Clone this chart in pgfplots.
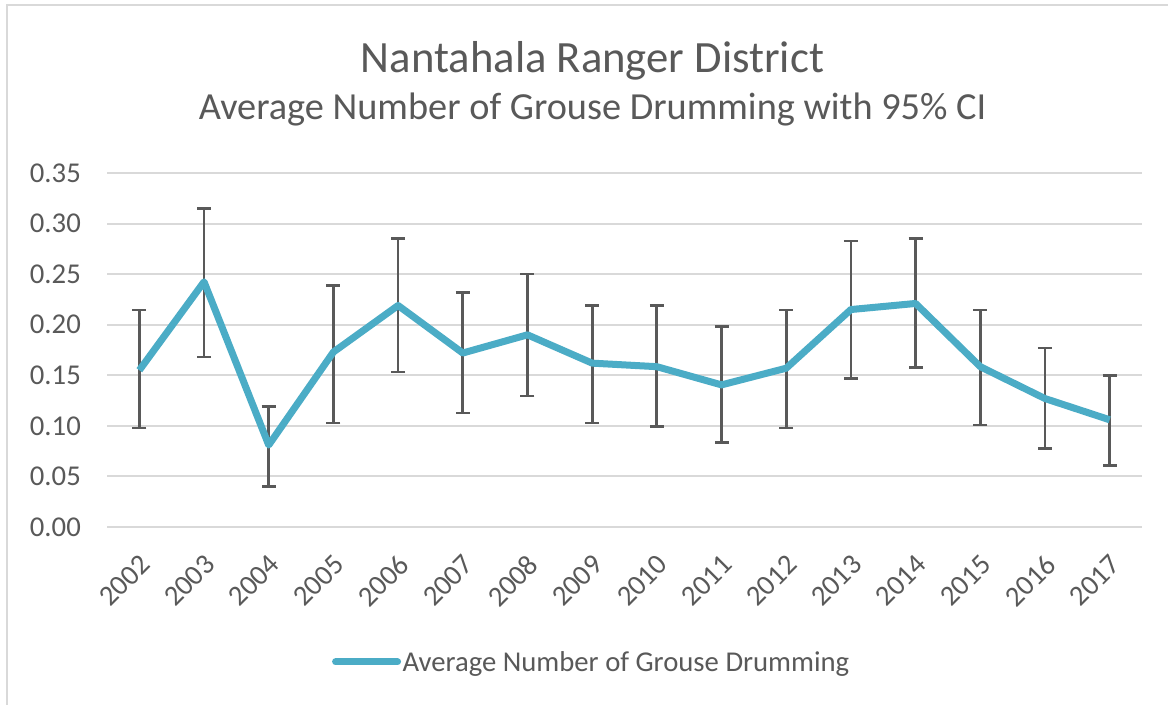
\documentclass[border=0pt]{standalone}
\usepackage{fontspec}
\setmainfont{Carlito}
\usepackage{pgfplots}
\pgfplotsset{compat=1.18}
\usepackage{pgfplotstable}
\definecolor{txt}{HTML}{595959}
\definecolor{gridc}{HTML}{D9D9D9}
\definecolor{aqua}{HTML}{4BACC6}
\definecolor{errc}{HTML}{595959}

\pgfplotstableread{
x val hi lo
0 0.155 0.2145 0.0977
1 0.2424 0.315 0.168
2 0.081 0.119 0.040
3 0.173 0.239 0.103
4 0.219 0.285 0.153
5 0.172 0.2316 0.1125
6 0.190 0.250 0.1296
7 0.162 0.219 0.103
8 0.1585 0.219 0.0993
9 0.1405 0.198 0.0835
10 0.157 0.2145 0.0977
11 0.215 0.283 0.1467
12 0.221 0.285 0.1576
13 0.1585 0.2145 0.1007
14 0.127 0.177 0.0776
15 0.106 0.1497 0.0608
}\data

\begin{document}
\begin{tikzpicture}[x=1bp,y=1bp]
\useasboundingbox (0,0) rectangle (1168,705);
\fill[white] (0,0) rectangle (1168,705);
\draw[gridc, line width=2bp] (7,0) -- (7,700) -- (1168,700);
\node[anchor=base, text=txt, font=\fontsize{44.7bp}{50bp}\selectfont] at (592.5,632) {Nantahala Ranger District};
\node[anchor=base, text=txt, font=\fontsize{38.3bp}{42bp}\selectfont] at (592.5,585) {Average Number of Grouse Drumming with 95\% CI};
\begin{axis}[
  at={(107bp,178bp)}, anchor=south west, scale only axis,
  width=1035bp, height=354bp,
  xmin=-0.5, xmax=15.5, ymin=0, ymax=0.35,
  xtick={0,...,15},
  xticklabels={2002,2003,2004,2005,2006,2007,2008,2009,2010,2011,2012,2013,2014,2015,2016,2017},
  ytick={0,0.05,0.10,0.15,0.20,0.25,0.30,0.35},
  axis line style={draw=none},
  major tick length=0pt,
  ymajorgrids, grid style={gridc, line width=2bp},
  ticklabel style={font=\fontsize{28.7bp}{30bp}\selectfont, text=txt},
  yticklabel style={anchor=east, inner sep=0pt, xshift=-26bp},
  xticklabel style={xshift=6bp, yshift=-33bp, rotate=45, anchor=east, inner sep=0pt},
  /pgf/number format/fixed, /pgf/number format/fixed zerofill,
  /pgf/number format/precision=2, /pgf/number format/assume math mode=true,
  legend style={at={(axis description cs:0.468,-0.381)}, anchor=center, draw=none, fill=none,
    font=\fontsize{28.7bp}{30bp}\selectfont, text=txt, nodes={inner sep=1.5bp}},
  legend image code/.code={\draw[#1, line cap=round] (0bp,0bp) -- (62bp,0bp);},
  clip=false,
]
\addplot[forget plot, draw=none, mark=none, line width=2.5bp,
  error bars/.cd, y dir=both, y explicit,
  error bar style={draw=errc, line width=2.8bp},
  error mark options={draw=errc, rotate=90, mark size=7bp, line width=2.5bp}]
  table[x=x, y=val, y error plus expr=\thisrow{hi}-\thisrow{val}, y error minus expr=\thisrow{val}-\thisrow{lo}] {\data};
\addplot[aqua, line width=7bp, line join=round, mark=none] table[x=x, y=val] {\data};
\addlegendentry{Average Number of Grouse Drumming}
\end{axis}
\end{tikzpicture}
\end{document}
